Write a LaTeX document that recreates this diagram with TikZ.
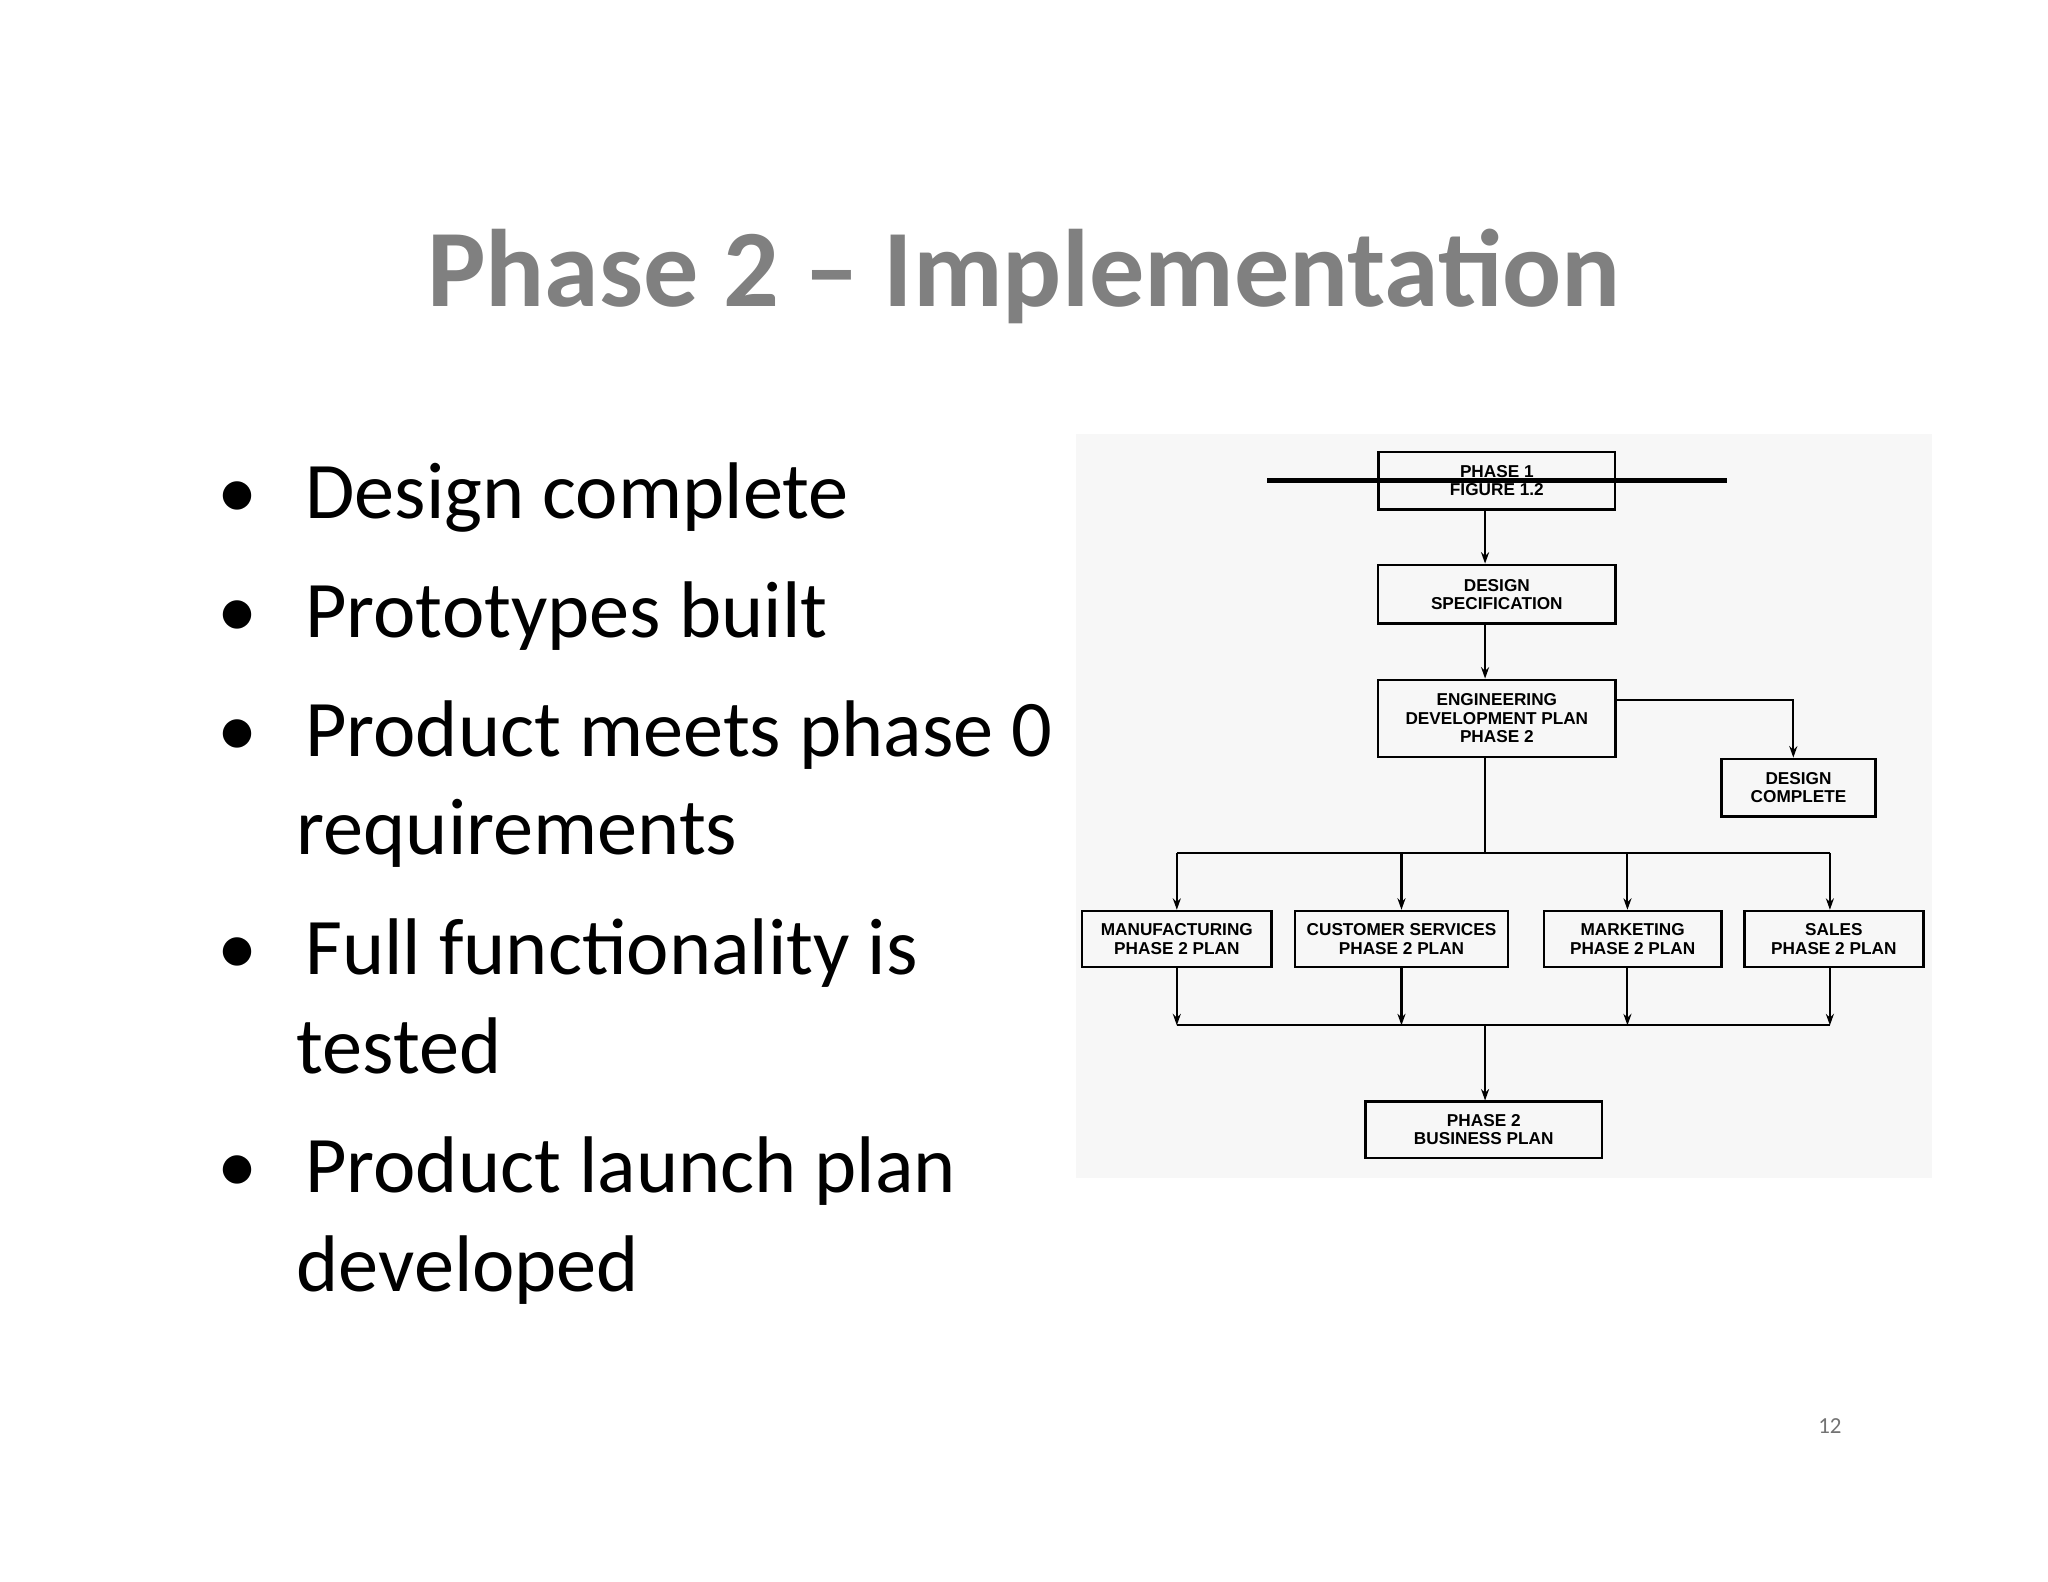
\documentclass[tikz,border=0pt]{standalone}
\usepackage{fontspec}
\setmainfont{Carlito}
\newfontfamily\boxfont{Liberation Sans}
\usetikzlibrary{arrows.meta}
\begin{document}
\begin{tikzpicture}[x=0.02cm,y=-0.02cm,
  blk/.style={draw,line width=1.1pt,align=center,inner sep=0pt,
    font=\boxfont\bfseries\fontsize{7.5}{8}\selectfont},
  flow/.style={line width=0.9pt,-{Stealth[length=5pt,width=3.5pt]}},
  line/.style={line width=0.9pt},
  bullet/.style={anchor=base west,font=\fontsize{35}{40}\selectfont}]

  % Page
  \useasboundingbox (0,0) rectangle (1568,1211);
  \fill[white] (0,0) rectangle (1568,1211);

  % Title
  \node[text=black!50,font=\bfseries\fontsize{48}{50}\selectfont] (title) at (784,212) {Phase 2 -- Implementation};

  % Bullets
  \node[bullet] (b1) at (160,397) {\textbullet\hspace{0.6em}Design complete};
  \node[bullet] (b2) at (160,488) {\textbullet\hspace{0.6em}Prototypes built};
  \node[bullet] (b3) at (160,579) {\textbullet\hspace{0.6em}Product meets phase 0};
  \node[bullet] (b3a) at (221,654) {requirements};
  \node[bullet] (b4) at (160,746) {\textbullet\hspace{0.6em}Full functionality is};
  \node[bullet] (b4a) at (221,822) {tested};
  \node[bullet] (b5) at (160,913) {\textbullet\hspace{0.6em}Product launch plan};
  \node[bullet] (b5a) at (221,989) {developed};

  % Page number
  \node[text=black!55,font=\fontsize{10}{12}\selectfont] (pg) at (1401,1092) {12};

  % Chart background
  \fill[black!3] (824,332) rectangle (1479,902);

  % Boxes
  \node[blk,minimum width=181\pgflinewidth] (p1) at (1146,368) {};
  \node[blk,minimum width=3.62cm,minimum height=0.88cm] (p1) at (1146,368) {PHASE 1\\FIGURE 1.2};
  \node[blk,minimum width=3.64cm,minimum height=0.9cm] (spec) at (1146,455) {DESIGN\\SPECIFICATION};
  \node[blk,minimum width=3.64cm,minimum height=1.18cm] (eng) at (1146,550) {ENGINEERING\\DEVELOPMENT PLAN\\PHASE 2};
  \node[blk,minimum width=2.36cm,minimum height=0.88cm] (done) at (1377,603) {DESIGN\\COMPLETE};
  \node[blk,minimum width=2.9cm,minimum height=0.86cm] (mfg) at (901,719) {MANUFACTURING\\PHASE 2 PLAN};
  \node[blk,minimum width=3.26cm,minimum height=0.86cm] (cust) at (1073,719) {CUSTOMER SERVICES\\PHASE 2 PLAN};
  \node[blk,minimum width=2.72cm,minimum height=0.86cm] (mkt) at (1250,719) {MARKETING\\PHASE 2 PLAN};
  \node[blk,minimum width=2.74cm,minimum height=0.86cm] (sales) at (1404,719) {SALES\\PHASE 2 PLAN};
  \node[blk,minimum width=3.62cm,minimum height=0.86cm] (bus) at (1136,865) {PHASE 2\\BUSINESS PLAN};

  % Junctions
  \coordinate (top) at (1137,653);
  \coordinate (bot) at (1137,785);

  % Connectors
  \draw[flow] (p1.south -| top) -- (spec.north -| top);
  \draw[flow] (spec.south -| top) -- (eng.north -| top);
  \draw[line] (eng.south -| top) -- (top);
  \draw[flow] (eng.east |- 0,536) -| (done.north -| 1373,0);
  \draw[line] (top -| mfg) -- (top -| 1401,0);
  \foreach \b/\x in {mfg/901,cust/1073,mkt/1246,sales/1401} {
    \draw[flow] (top -| \x,0) -- (\b.north -| \x,0);
    \draw[flow] (\b.south -| \x,0) -- (bot -| \x,0);
  }
  \draw[line] (bot -| 901,0) -- (bot -| 1401,0);
  \draw[flow] (bot) -- (bus.north -| bot);

\end{tikzpicture}
\end{document}
